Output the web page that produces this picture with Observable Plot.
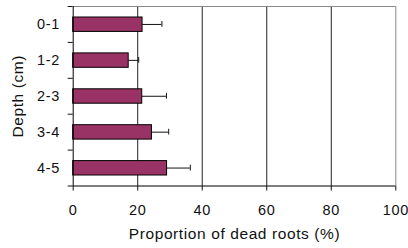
<!DOCTYPE html>
<html>
<head>
<meta charset="utf-8">
<script src="https://cdn.jsdelivr.net/npm/d3@7"></script>
<script src="https://cdn.jsdelivr.net/npm/@observablehq/plot@0.6"></script>
<style>
  html, body { margin: 0; padding: 0; background: #fff; }
  svg text { letter-spacing: 0.6px; }
</style>
</head>
<body>
<div id="chart"></div>
<script>
const depths = ["0-1", "1-2", "2-3", "3-4", "4-5"];
const means = [21.5, 17.2, 21.4, 24.4, 29.1];
const errors = [6.0, 3.1, 7.5, 5.2, 7.2];
const xTicks = [0, 20, 40, 60, 80, 100];
const xLabel = "Proportion of dead roots (%)";
const yLabel = "Depth (cm)";

const rows = depths.map((d, i) => ({
  depth: d, i, mean: means[i], hi: means[i] + errors[i]
}));
const yBounds = d3.range(depths.length + 1);
const innerGrid = xTicks.slice(1, -1);
const xMin = xTicks[0], xMax = xTicks[xTicks.length - 1];

const chart = Plot.plot({
  width: 408,
  height: 248,
  marginLeft: 72.7,
  marginRight: 12.7,
  marginTop: 6,
  marginBottom: 62.5,
  style: { fontFamily: "'Liberation Sans', Arial, sans-serif", fontSize: "14.5px", color: "#111", background: "#fff" },
  x: { domain: [xMin, xMax], ticks: xTicks, tickSize: 5, tickPadding: 14.2, label: null },
  y: { domain: [0, depths.length], reverse: true, ticks: yBounds, tickSize: 5, tickFormat: () => "", label: null },
  marks: [
    Plot.ruleX(innerGrid, { stroke: "#222", strokeWidth: 1 }),
    Plot.ruleY([yBounds[0]], { x1: xMin, x2: xMax, stroke: "#888" }),
    Plot.ruleX([xMax], { stroke: "#888" }),
    Plot.ruleX(rows, { x: "hi", y1: d => d.i + 0.42, y2: d => d.i + 0.58, stroke: "#111" }),
    Plot.ruleY(rows, { y: d => d.i + 0.5, x1: "mean", x2: "hi", stroke: "#111" }),
    Plot.rectX(rows, { x1: xMin, x2: "mean", y1: d => d.i, y2: d => d.i + 1, insetTop: 11, insetBottom: 10.5, fill: "#993366", stroke: "#000", strokeWidth: 1 }),
    Plot.ruleX([xMin], { stroke: "#000" }),
    Plot.ruleY([yBounds[yBounds.length - 1]], { x1: xMin, x2: xMax, stroke: "#000" }),
    Plot.text(rows, { y: d => d.i + 0.5, text: "depth", frameAnchor: "left", textAnchor: "end", dx: -13.4, fontSize: 14.5, fill: "#111" }),
    Plot.text([xLabel], { text: d => d, frameAnchor: "bottom", textAnchor: "middle", dy: 53, fontSize: 15.5, fill: "#111" }),
    Plot.text([yLabel], { text: d => d, frameAnchor: "left", textAnchor: "middle", dx: -55, rotate: -90, fontSize: 15.5, fill: "#111" })
  ]
});
document.getElementById("chart").appendChild(chart);
</script>
</body>
</html>
